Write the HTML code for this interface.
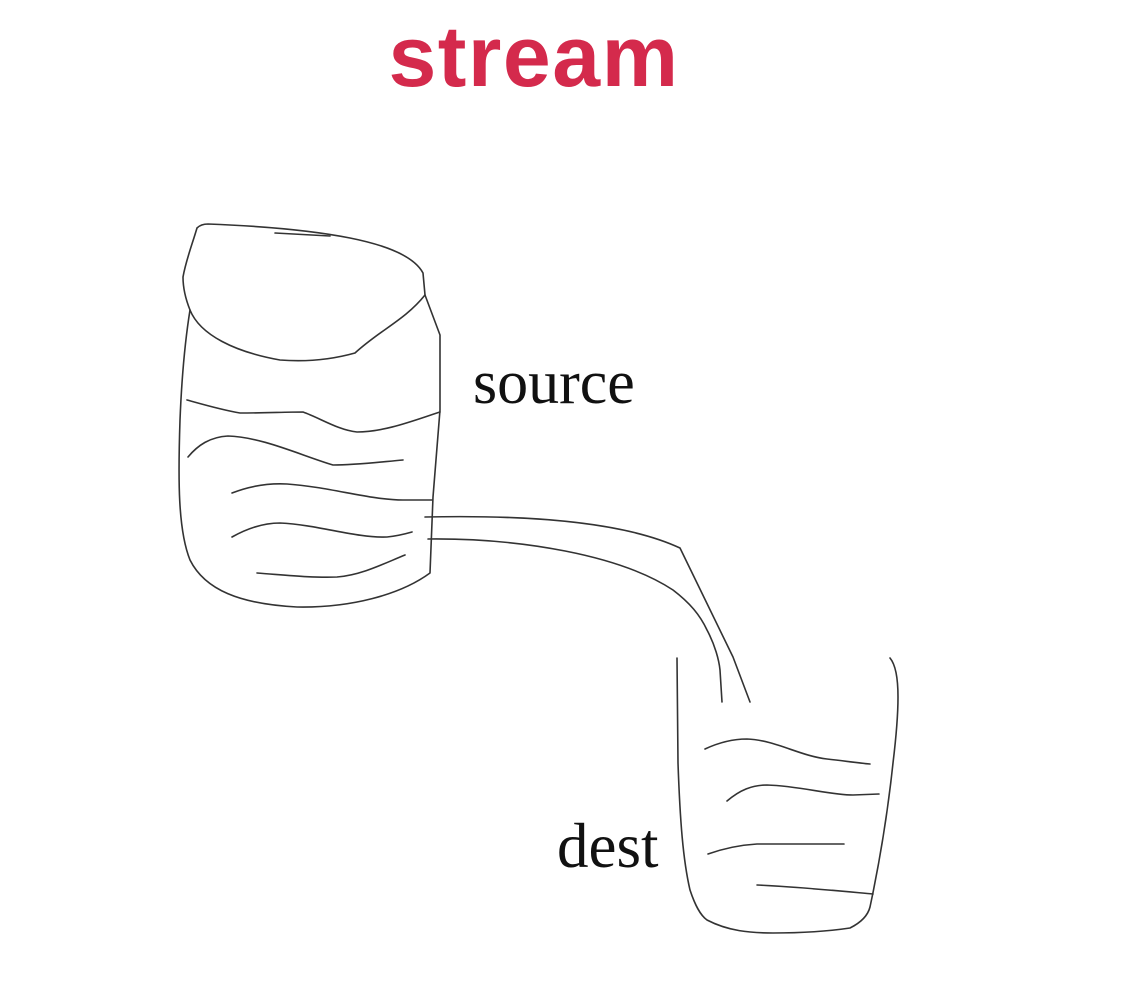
<!DOCTYPE html>
<html><head><meta charset="utf-8"><style>
html,body{margin:0;padding:0;background:#fff;}
svg{display:block}
</style></head><body>
<svg width="1136" height="1000" viewBox="0 0 1136 1000" xmlns="http://www.w3.org/2000/svg">
<rect width="1136" height="1000" fill="#fff"/>
<text x="534" y="86" text-anchor="middle" font-family="Liberation Sans, sans-serif" font-weight="bold" font-size="86" letter-spacing="1.5" fill="#d42a4c">stream</text>
<text x="473" y="403" font-family="Liberation Serif, serif" font-size="62" fill="#111">source</text>
<text x="557" y="867" font-family="Liberation Serif, serif" font-size="63" fill="#111">dest</text>
<g fill="none" stroke="#333" stroke-width="1.6" stroke-linecap="round" stroke-linejoin="round">
<path d="M190,310 C186,300 183,290 183,277 C186,260 192,245 197,228 C200,225 203,224 208,224 C260,226 310,230 350,238 C390,246 415,258 423,273 L425,295 C405,320 380,330 355,353 C330,360 305,362 280,360 C235,352 200,335 190,310 Z"/>
<path d="M275,233 L330,236"/>
<path d="M425,295 L440,335 L440,410 L433,497 L430,573 C400,595 350,608 297,607 C240,604 205,590 190,560 C178,530 178,480 180,420 C182,370 186,335 190,310"/>
<path d="M187,400 C205,405 222,410 240,413 C265,413 285,412 303,412 C320,418 338,430 357,432 C385,432 415,420 440,412"/>
<path d="M188,457 C198,445 210,437 228,436 C262,437 300,455 333,465 C357,465 380,462 403,460"/>
<path d="M232,493 C250,486 268,483 287,484 C330,487 370,500 403,500 L432,500"/>
<path d="M232,537 C248,528 265,523 280,523 C320,525 355,538 387,537 C397,536 405,534 412,532"/>
<path d="M257,573 C285,575 312,578 337,577 C362,575 385,563 405,555"/>
<path d="M425,517 C520,515 620,520 680,548 L733,657 L750,702"/>
<path d="M428,539 C520,538 620,555 673,590 C690,603 700,615 707,630 C715,645 719,660 720,670 L722,702"/>
<path d="M677,658 L678,763 C680,820 683,860 690,890 C695,905 700,915 707,920 C728,931 750,933 773,933 C800,933 830,931 850,928 C862,922 868,915 870,907 C880,860 888,810 893,763 C897,730 898,710 898,697 C898,675 895,664 890,658"/>
<path d="M705,749 C720,742 733,739 747,739 C775,740 800,756 827,759 C845,761 858,763 870,764"/>
<path d="M727,801 C740,790 752,785 767,785 C800,786 830,795 853,795 L879,794"/>
<path d="M708,854 C725,848 740,845 757,844 L844,844"/>
<path d="M757,885 C800,887 840,891 873,894"/>
</g>
</svg>
</body></html>
